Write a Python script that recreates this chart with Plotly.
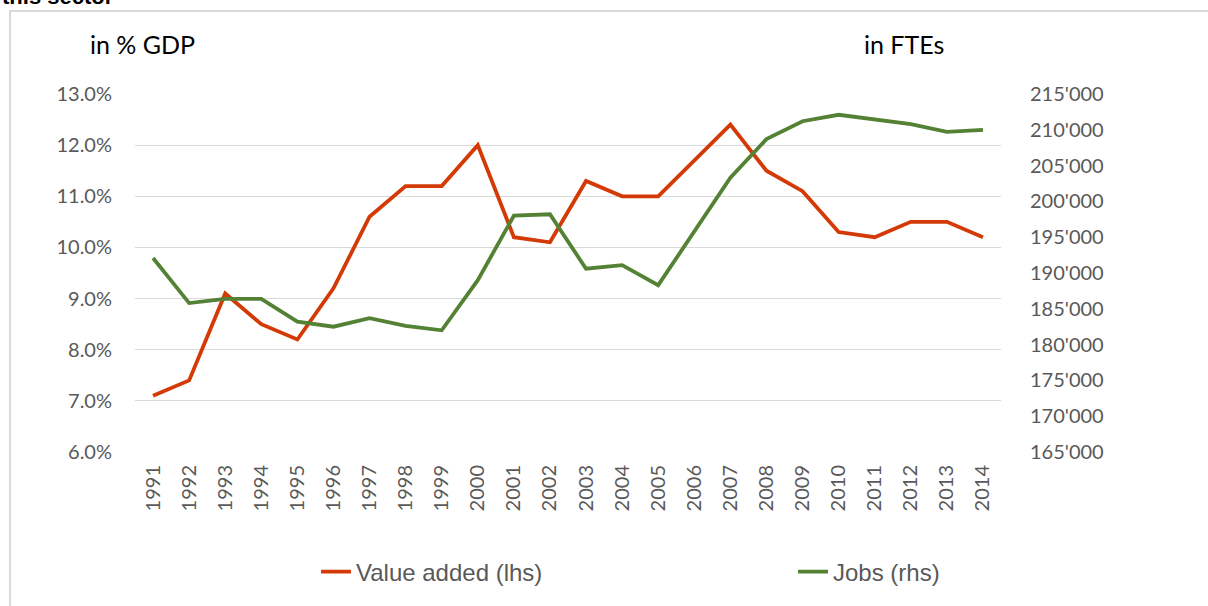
import plotly.graph_objects as go

years = [str(y) for y in range(1991, 2015)]
value_added = [7.1, 7.4, 9.1, 8.5, 8.2, 9.2, 10.6, 11.2, 11.2, 12.0, 10.2, 10.1,
               11.3, 11.0, 11.0, 11.7, 12.4, 11.5, 11.1, 10.3, 10.2, 10.5, 10.5, 10.2]
jobs = [192100, 185800, 186400, 186400, 183200, 182500, 183700, 182600, 182000, 189000,
        198000, 198200, 190600, 191100, 188300, 195800, 203300, 208700, 211200, 212100,
        211400, 210800, 209700, 210000]

W, H = 1208, 606
L, R, T, B = 135, 1001, 94, 452
pw, ph = R - L, B - T

def px(x):
    return (x - L) / pw

def py(y):
    return (B - y) / ph

tick_font = dict(family="Lato, Open Sans, sans-serif", size=20, color="#595959")
legend_font = dict(family="Liberation Sans, Arial, sans-serif", size=24, color="#595959")

fig = go.Figure()
fig.add_trace(go.Scatter(x=years, y=value_added, name="Value added (lhs)", mode="lines",
                         line=dict(color="#D43A05", width=3.8), yaxis="y", legend="legend"))
fig.add_trace(go.Scatter(x=years, y=jobs, name="Jobs (rhs)", mode="lines",
                         line=dict(color="#548235", width=3.8), yaxis="y2", legend="legend2"))

fig.update_layout(
    width=W, height=H,
    margin=dict(l=L, r=W - R, t=T, b=H - B, pad=0),
    paper_bgcolor="white", plot_bgcolor="white",
    separators=".'",
    showlegend=True,
    legend=dict(orientation="h", x=px(316), xanchor="left", y=py(572), yanchor="middle",
                font=legend_font, bgcolor="rgba(0,0,0,0)"),
    legend2=dict(orientation="h", x=px(793), xanchor="left", y=py(572), yanchor="middle",
                 font=legend_font, bgcolor="rgba(0,0,0,0)"),
    xaxis=dict(type="category", range=[-0.5, 23.5], tickangle=-90, showgrid=False,
               showline=False, ticks="", tickfont=tick_font, ticklabelstandoff=8),
    yaxis=dict(range=[6, 13], dtick=1, tickformat=".1f", ticksuffix="%", showgrid=True,
               gridcolor="#D9D9D9", gridwidth=1, zeroline=False, showline=False, ticks="",
               tickfont=tick_font, ticklabelstandoff=22),
    yaxis2=dict(range=[165000, 215000], dtick=5000, tickformat=",d", overlaying="y", side="right",
                showgrid=False, zeroline=False, showline=False, ticks="",
                tickfont=tick_font, ticklabelstandoff=28),
    shapes=[dict(type="rect", xref="paper", yref="paper", x0=px(10), x1=px(1215), y0=py(612), y1=py(11),
                 line=dict(color="#D9D9D9", width=2), fillcolor="rgba(0,0,0,0)", layer="below")],
    annotations=[
        dict(text="in % GDP", xref="paper", yref="paper", x=px(142), y=py(44), showarrow=False,
             xanchor="center", yanchor="middle",
             font=dict(family="Lato, Open Sans, sans-serif", size=25, color="#000000")),
        dict(text="in FTEs", xref="paper", yref="paper", x=px(904), y=py(44), showarrow=False,
             xanchor="center", yanchor="middle",
             font=dict(family="Lato, Open Sans, sans-serif", size=25, color="#000000")),
        dict(text="<b>this sector</b>", xref="paper", yref="paper", x=px(0), y=py(-4), showarrow=False,
             xanchor="left", yanchor="middle",
             font=dict(family="Liberation Sans, Arial, sans-serif", size=22, color="#000000")),
    ],
)

fig.write_html("out.html", config={"displayModeBar": False},
               post_script="document.body.style.margin='0';")
